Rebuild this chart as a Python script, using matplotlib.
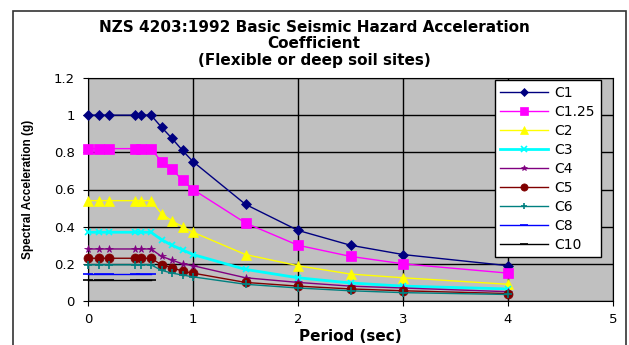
import numpy as np
import matplotlib.pyplot as plt
from matplotlib.patches import Rectangle

# Données
periode = [0, 0.1, 0.2, 0.45, 0.5, 0.6, 0.7, 0.8, 0.9, 1.0, 1.5, 2.0, 2.5, 3.0, 4.0]
periode_plateau = [0, 0.1, 0.2, 0.45, 0.5, 0.6]

c1 = [1.0, 1.0, 1.0, 1.0, 1.0, 1.0, 0.935, 0.875, 0.81, 0.75, 0.52, 0.38, 0.30, 0.25, 0.19]
c125 = [0.82, 0.82, 0.82, 0.82, 0.82, 0.82, 0.75, 0.71, 0.65, 0.60, 0.42, 0.30, 0.24, 0.20, 0.15]
c2 = [0.54, 0.54, 0.54, 0.54, 0.54, 0.54, 0.47, 0.43, 0.40, 0.37, 0.25, 0.19, 0.145, 0.125, 0.09]
c3 = [0.37, 0.37, 0.37, 0.37, 0.37, 0.37, 0.33, 0.30, 0.275, 0.25, 0.17, 0.125, 0.097, 0.08, 0.065]
c4 = [0.28, 0.28, 0.28, 0.28, 0.28, 0.28, 0.24, 0.22, 0.20, 0.19, 0.125, 0.10, 0.08, 0.07, 0.05]
c5 = [0.23, 0.23, 0.23, 0.23, 0.23, 0.23, 0.195, 0.18, 0.16, 0.15, 0.10, 0.08, 0.065, 0.055, 0.04]
c6 = [0.195, 0.195, 0.195, 0.195, 0.195, 0.195, 0.165, 0.15, 0.14, 0.13, 0.09, 0.07, 0.055, 0.045, 0.035]
c8 = [0.146, 0.146, 0.146, 0.146, 0.146, 0.146]
c10 = [0.113, 0.113, 0.113, 0.113, 0.113, 0.113]

noms = ['C1', 'C1.25', 'C2', 'C3', 'C4', 'C5', 'C6', 'C8', 'C10']
valeurs = [c1, c125, c2, c3, c4, c5, c6, c8, c10]
couleurs = ['#000080', '#FF00FF', '#FFFF00', '#00FFFF', '#800080',
            '#800000', '#008080', '#0000FF', '#000000']
marqueurs = ['D', 's', '^', 'x', '*', 'o', '+', '_', '_']
tailles = [5, 6.5, 6.5, 5, 5.5, 6.5, 6, 7, 7]

titre = ['NZS 4203:1992 Basic Seismic Hazard Acceleration',
         'Coefficient',
         '(Flexible or deep soil sites)']

plt.rcParams['font.family'] = ['DejaVu Sans']

fig = plt.figure(figsize=(6.29, 3.45), dpi=100)
ax = fig.add_axes([88 / 629, 1 - 301 / 345, 525 / 629, 223 / 345])
ax.set_facecolor('#C0C0C0')

# Cadre extérieur du graphique
fig.patches.append(Rectangle((13 / 629, -0.1), 613 / 629, 1.1 - 11 / 345,
                             transform=fig.transFigure, fill=False,
                             edgecolor='#333333', linewidth=1.2))

for nom, y, c, m, t in zip(noms, valeurs, couleurs, marqueurs, tailles):
    x = periode if len(y) == len(periode) else periode_plateau
    lw = 2 if nom == 'C3' else 1
    ax.plot(x, y, color=c, marker=m, markersize=t, linewidth=lw,
            markeredgewidth=1.2 if m in ('x', '+', '_') else 0.5,
            markeredgecolor=c, label=nom, zorder=3, clip_on=False)

ax.set_xlim(0, 5)
ax.set_ylim(0, 1.2)
ax.set_xticks([0, 1, 2, 3, 4, 5])
ax.set_yticks([0, 0.2, 0.4, 0.6, 0.8, 1.0, 1.2])
ax.set_yticklabels(['0', '0.2', '0.4', '0.6', '0.8', '1', '1.2'])
ax.grid(True, color='black', linewidth=1)
ax.set_axisbelow(True)
for s in ax.spines.values():
    s.set_color('black')
ax.tick_params(direction='out', length=3.5, color='black', labelsize=9.5)
ax.tick_params(axis='x', pad=5)
ax.tick_params(axis='y', pad=6)

ax.set_xlabel('Period (sec)', fontsize=11, fontweight='bold', labelpad=2)
ax.set_ylabel('Spectral Acceleration (g)', fontsize=8.5, fontweight='bold',
              family='Liberation Sans', labelpad=14)

for ligne, ypix in zip(titre, [27, 44, 61]):
    fig.text(314 / 629, 1 - ypix / 345, ligne, ha='center', va='center',
             fontsize=11, fontweight='bold')

leg = ax.legend(loc='upper left', bbox_to_anchor=(0.775, 0.991), fontsize=10,
                frameon=True, fancybox=False, framealpha=1, edgecolor='black',
                handlelength=3.4, labelspacing=0.36, borderpad=0.4,
                handletextpad=0.5, borderaxespad=0, markerscale=0.8)
leg.get_frame().set_linewidth(1)

fig.savefig('out.png', dpi=100)
